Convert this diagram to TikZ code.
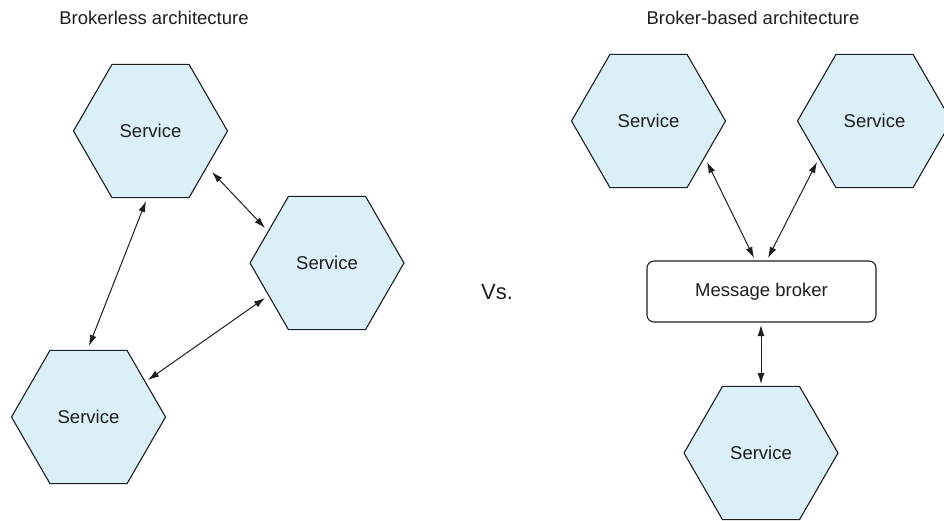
\documentclass[tikz,border=0pt]{standalone}
\usepackage{fontspec}
\setmainfont{Liberation Sans}
\usetikzlibrary{shapes.geometric,arrows.meta,calc}
\definecolor{hexfill}{RGB}{218,239,248}
\definecolor{inkc}{RGB}{30,30,30}
\begin{document}
\begin{tikzpicture}[x=1pt,y=-1pt,
  svc/.style={regular polygon, regular polygon sides=6, minimum size=154pt, inner sep=0pt,
    draw=inkc, line width=1.1pt, fill=hexfill, font=\fontsize{18.5}{22}\selectfont, text=inkc},
  brokerbox/.style={rectangle, rounded corners=7pt, draw=inkc, line width=1.1pt, fill=white,
    minimum width=229pt, minimum height=61pt, inner sep=0pt, font=\fontsize{18.5}{22}\selectfont, text=inkc},
  ttl/.style={font=\fontsize{18.5}{22}\selectfont, text=inkc, inner sep=0pt},
  link/.style={{Latex[length=11pt,width=7pt]}-{Latex[length=11pt,width=7pt]}, line width=1pt, draw=inkc}]
\useasboundingbox (0,0) rectangle (944,520);
\clip (0,0) rectangle (944,520);
% titles
\node[ttl] (t1) at (154,18) {Brokerless architecture};
\node[ttl] (t2) at (753,18) {Broker-based architecture};
\node[font=\fontsize{22}{26}\selectfont, text=inkc, inner sep=0pt] (vs) at (497,292) {Vs.};
% left side
\node[svc] (h1) at (150.5,131) {Service};
\node[svc] (h2) at (327,263) {Service};
\node[svc] (h3) at (88.5,417) {Service};
\draw[link] ($(h1)+(61.5,41)$) -- ($(h2)+(-62,-35)$);
\draw[link] ($(h1)+(-4.5,70)$) -- ($(h3)+(0.5,-71)$);
\draw[link] ($(h2)+(-62,35)$) -- ($(h3)+(59.5,-37)$);
% right side
\node[svc] (h4) at (648.5,121) {Service};
\node[svc] (h5) at (874.5,121) {Service};
\node[svc] (h6) at (761,453) {Service};
\node[brokerbox] (mb) at (761.5,291.5) {Message broker};
\draw[link] ($(mb)+(-7.5,-33.5)$) -- ($(h4)+(58.5,41)$);
\draw[link] ($(mb)+(6.5,-33.5)$) -- ($(h5)+(-57.5,41)$);
\draw[link] ($(mb)+(-0.5,33.5)$) -- ($(h6)+(0,-69)$);
\end{tikzpicture}
\end{document}
